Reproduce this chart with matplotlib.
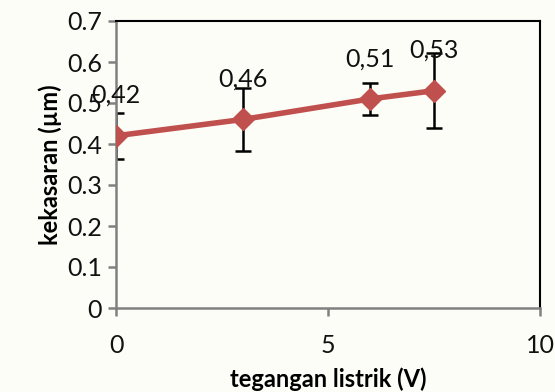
import matplotlib
matplotlib.use("Agg")
import matplotlib.pyplot as plt

# data
tegangan = [0, 3, 6, 7.5]
kekasaran = [0.42, 0.46, 0.51, 0.53]
galat = [0.056, 0.077, 0.039, 0.091]
label_teks = ["0,42", "0,46", "0,51", "0,53"]

plt.rcParams["font.family"] = ["Lato", "DejaVu Sans"]

fig = plt.figure(figsize=(5.55, 3.92), dpi=100, facecolor="#fdfdf8")
ax = fig.add_axes([116 / 555, 1 - 308 / 392, (540 - 116) / 555, (308 - 21) / 392])
ax.set_facecolor("#fdfdf8")

red = "#c0504d"
ax.errorbar(tegangan, kekasaran, yerr=galat, fmt="none", ecolor="black",
            elinewidth=1.8, capsize=6, capthick=1.8, zorder=2)
ax.plot(tegangan, kekasaran, color=red, lw=4, marker="D", ms=11,
        mec=red, mfc=red, zorder=3)

for x, y, t in zip(tegangan, kekasaran, label_teks):
    ax.annotate(t, (x, y), xytext=(0, 29), textcoords="offset points",
                ha="center", va="center", fontsize=18, color="#111111")

ax.set_xlim(0, 10)
ax.set_ylim(0, 0.7)
ax.set_xticks([0, 5, 10])
ax.set_yticks([0, 0.1, 0.2, 0.3, 0.4, 0.5, 0.6, 0.7])
ax.set_yticklabels(["0", "0.1", "0.2", "0.3", "0.4", "0.5", "0.6", "0.7"])

for side in ["top", "right"]:
    ax.spines[side].set_color("black")
    ax.spines[side].set_linewidth(1.5)
for side in ["left", "bottom"]:
    ax.spines[side].set_color("#808080")
    ax.spines[side].set_linewidth(1.8)

ax.tick_params(axis="both", direction="out", length=6, width=1.8,
               color="#808080", labelsize=18, labelcolor="#111111")
ax.tick_params(axis="x", pad=13)
ax.tick_params(axis="y", pad=4)

ax.set_xlabel("tegangan listrik (V)", fontsize=17, fontweight="bold", labelpad=7)
ax.set_ylabel("kekasaran (µm)", fontsize=17, fontweight="bold", labelpad=4)

fig.savefig("out.png", dpi=100, facecolor=fig.get_facecolor())
